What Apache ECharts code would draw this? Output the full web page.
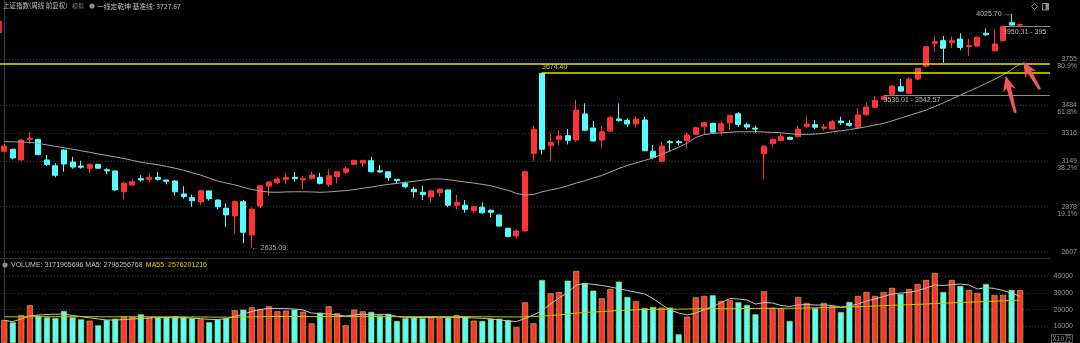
<!DOCTYPE html>
<html>
<head>
<meta charset="utf-8">
<script src="https://cdn.jsdelivr.net/npm/echarts@6.0.0/dist/echarts.min.js"></script>
<style>
html,body{margin:0;padding:0;background:#000;overflow:hidden;}
#chart{width:1080px;height:343px;}
</style>
</head>
<body>
<div id="chart"></div>
<script>
// ---- weekly candles: [open, close, low, high] ----
const ohlc = [
[3208,3239,3198,3251],[3220,3168,3160,3223],[3156,3275,3153,3281],[3279,3285,3251,3322],[3279,3188,3185,3281],
[3156,3130,3120,3186],[3122,3065,3053,3136],[3215,3132,3086,3220],[3144,3114,3104,3176],[3120,3113,3104,3152],
[3107,3130,3080,3136],[3130,3107,3104,3134],[3098,3091,3071,3110],[3091,2978,2973,3092],[2967,3017,2922,3027],
[3007,3027,3005,3041],[3045,3037,3025,3065],[3041,3053,3025,3077],[3053,3041,3033,3085],[3037,3029,3011,3038],
[3031,2967,2946,3037],[2954,2938,2926,3001],[2932,2914,2878,2950],[2906,2973,2888,2978],[2972,2926,2914,2973],
[2918,2878,2863,2922],[2869,2829,2756,2898],[2823,2908,2720,2914],[2908,2726,2660,2918],[2710,2863,2635.09,2875],
[2882,3003,2869,3005],[3001,3025,2942,3027],[3023,3043,3013,3057],[3041,3053,3013,3077],[3053,3045,3027,3086],
[3037,3045,2982,3061],[3047,3067,3041,3085],[3053,3017,3011,3080],[3011,3063,2995,3101],[3057,3086,3017,3087],
[3083,3104,3073,3120],[3130,3154,3128,3156],[3138,3154,3116,3156],[3152,3086,3083,3176],[3092,3085,3080,3126],
[3086,3051,3031,3087],[3041,3033,3013,3042],[3017,2997,2988,3027],[2982,2967,2932,2997],[2964,2950,2918,3003],
[2936,2972,2904,2976],[2961,2982,2938,2988],[2978,2887,2875,2979],[2887,2904,2863,2948],[2887,2863,2842,2918],
[2854,2878,2841,2882],[2875,2842,2835,2904],[2857,2845,2815,2863],[2829,2763,2762,2833],[2750,2700,2698,2751],
[2704,2734,2690,2744],[2734,3086,2730,3092],[3196,3339,3150,3360],[3672,3220,3190,3674.40],[3241,3261,3150,3315],
[3279,3299,3245,3334],[3301,3273,3249,3340],[3275,3453,3265,3513],[3430,3333,3328,3493],[3346,3269,3265,3388],
[3275,3324,3229,3360],[3328,3408,3324,3418],[3400,3390,3384,3493],[3392,3370,3352,3404],[3370,3400,3350,3416],
[3394,3211,3209,3413],[3208,3170,3164,3245],[3148,3239,3144,3265],[3265,3259,3205,3275],[3265,3259,3243,3275],
[3271,3305,3226,3318],[3309,3348,3305,3354],[3354,3378,3311,3384],[3374,3321,3315,3378],[3329,3372,3305,3390],
[3378,3422,3334,3424],[3431,3368,3354,3440],[3366,3352,3340,3378],[3346,3340,3318,3360],[3193,3238,3041,3245],
[3255,3279,3232,3285],[3273,3295,3269,3311],[3291,3279,3275,3295],[3295,3340,3291,3360],[3354,3370,3348,3418],
[3366,3351,3340,3394],[3345,3352,3329,3370],[3340,3384,3339,3394],[3388,3378,3364,3414],[3374,3362,3354,3394],
[3351,3424,3345,3464],[3425,3471,3422,3497],[3470,3511,3465,3536],[3517,3533,3515,3536],[3547,3596,3543,3602],
[3592,3566,3562,3638],[3553,3638,3549,3648],[3638,3702,3632,3703],[3715,3830,3707,3834],[3850,3860,3800,3895],
[3866,3821,3735,3894],[3854,3866,3821,3890],[3876,3826,3810,3910],[3830,3838,3775,3876],[3834,3886,3830,3890],
[3910,3901,3894,3939],[3806,3846,3800,3934],[3866,3950.31,3862,3950.31],[3973,3959,3957,4025.70],[3958,3962,3957,3965]
];
// week index (x category positions)
const weeks = ohlc.map((_, i) => i);

// moving average on price
const priceMA = [
3265,3264,3263,3261,3255,3246,3237,3229,3220,3211,
3202,3192,3183,3174,3165,3154,3143,3135,3128,3118,
3107,3095,3080,3066,3048,3031,3019,3008,2994,2980,
2972,2965,2964,2966,2967,2967,2966,2964,2966,2970,
2974,2980,2988,2995,3004,3011,3017,3023,3029,3036,
3043,3044,3039,3032,3025,3019,3011,3003,2989,2976,
2957,2948,2951,2967,2978,2988,3003,3019,3033,3049,
3064,3085,3106,3124,3139,3153,3169,3188,3210,3232,
3257,3290,3307,3314,3318,3321,3324,3324,3324,3323,
3320,3318,3313,3308,3309,3310,3315,3324,3330,3337,
3345,3354,3364,3374,3389,3405,3421,3437,3453,3474,
3496,3519,3542,3565,3588,3612,3636,3663,3694,3728];

// volume (x10万)
const volume = [
13800,12400,16800,22600,16400,15400,15000,19200,15400,14200,
13400,10600,13800,14600,16000,15800,17200,15400,15400,15600,
16000,15800,14800,14200,12400,14200,15000,19600,20000,21400,
20400,22000,19000,19400,20000,18800,11800,18200,22000,17800,
10600,20000,19000,18600,16600,17200,13200,14800,15400,14800,
15800,15000,15200,16800,16000,13400,13200,14600,14600,13800,
9600,24400,11800,37800,29800,30600,37400,43200,36000,31400,
26800,32400,36800,27600,25000,21000,21600,21200,21200,5200,
15800,27400,28200,28600,25200,25800,24400,22800,17200,31000,
21200,20800,13200,27600,24000,21000,24000,22200,18600,24600,
28200,30600,28200,30600,33000,29400,32400,35400,37800,42000,
30600,37800,34200,31800,30000,35400,28800,28800,31800,31720];

const volMA5 = [
13500,12900,14400,16200,16800,17100,17300,17400,16500,15900,
15100,14400,13800,13800,14100,14400,14700,15000,15400,15300,
15200,15200,15000,14600,14200,14100,14500,15900,17400,18900,
20100,20800,20700,20600,20400,19800,18000,17600,17500,16800,
16200,16900,17300,16800,17100,17300,15900,15300,15200,15300,
15400,15400,15400,15400,15300,15000,14800,14400,13900,13200,
12900,14700,16800,19500,23400,27000,30300,34800,35700,35200,
34500,33600,32600,31500,30500,29400,26700,23100,19800,18000,
16800,18000,20100,21900,24300,26700,26400,25800,23400,24300,
24000,22500,21900,22800,23100,22800,22800,22500,21600,22200,
23400,25200,26400,27900,29400,30000,30300,31500,33000,34800,
34500,35100,35400,34800,32400,33300,32700,31500,30000,27963];

const volMA55 = [
15700,15700,15700,15800,15800,15800,15800,15800,15800,15800,
15800,15700,15700,15700,15700,15700,15700,15700,15700,15700,
15700,15600,15600,15600,15600,15500,15500,15500,15600,15700,
15800,15900,15900,15900,15900,15900,15900,15800,15900,15900,
15800,15900,15900,15900,15800,15800,15800,15800,15800,15800,
15800,15800,15800,15800,15800,15800,15800,15700,15700,15700,
15600,15700,15900,16200,16500,16900,17400,17900,18300,18600,
18900,19200,19500,19700,19900,20100,20200,20300,20300,20300,
20400,20500,20500,20600,20600,20600,20600,20700,20700,20800,
20800,20800,20800,20900,21000,21100,21200,21300,21400,21600,
21800,22000,22200,22400,22600,22800,23000,23200,23400,23700,
23900,24100,24300,24500,24700,24900,25100,25300,25500,25762];

// axis tick labels
const priceTicks = [3755, 3484, 3316, 3149, 2878, 2607];
const fibLabels  = ['80.9%', '61.8%', '', '38.2%', '19.1%', ''];
const volTicks = [10000, 20000, 30000, 40000];

// reference levels / annotations
const baseLine = 3727.67;
const gapHigh = { week: 63, value: 3674.40 };
const gapA = { week: 103, value: 3542.57, text: '3536.01 - 3542.57' };
const gapB = { week: 117, value: 3950.31, text: '3950.31 - 395' };
const lowMark = { week: 29, value: 2635.09 };
const highMark = { week: 118, value: 4025.70 };
const legendVol = { vol: '3171965696', ma5: '2796256768', ma55: '2576201216' };

const UP = '#ff3333', DOWN = '#55ffff', YEL = '#e6e600';
const NUM = '"Liberation Sans", Arial, sans-serif';
const CJK = '"Noto Sans CJK SC", "Noto Sans", sans-serif';
const XMAX = 122.5;

const chart = echarts.init(document.getElementById('chart'), null, { width: 1080, height: 343 });

const option = {
  backgroundColor: '#000',
  animation: false,
  grid: [
    { left: 0, right: 30, top: 0, height: 258 },
    { left: 0, right: 30, top: 258, height: 85 }
  ],
  xAxis: [
    { type: 'value', gridIndex: 0, min: -0.5, max: XMAX,
      axisLine: { show: true, onZero: false, lineStyle: { color: '#2e2e2e' } },
      axisTick: { show: false }, axisLabel: { show: false }, splitLine: { show: false } },
    { type: 'value', gridIndex: 1, min: -0.5, max: XMAX, show: false,
      axisLine: { show: false }, splitLine: { show: false } }
  ],
  yAxis: [
    { type: 'value', gridIndex: 0, position: 'right', min: 2573, max: 4108, scale: true,
      axisLine: { show: true, lineStyle: { color: '#3a3a3a' } },
      axisTick: { show: false, customValues: priceTicks },
      splitLine: { show: true, lineStyle: { color: '#3a3a3a', type: [1, 2], width: 1 } },
      axisLabel: {
        customValues: priceTicks, align: 'right', margin: 27,
        color: '#9a9a9a', fontSize: 7, fontFamily: NUM,
        formatter: function (v) {
          const k = priceTicks.indexOf(v);
          const pct = k >= 0 ? fibLabels[k] : '';
          return pct ? '{e| }\n{a|' + v + '}\n{a|' + pct + '}' : '{a|' + v + '}';
        },
        rich: {
          e: { fontSize: 7, lineHeight: 7, align: 'right' },
          a: { fontSize: 7, lineHeight: 7, color: '#9a9a9a', fontFamily: NUM, align: 'right' }
        }
      }
    },
    { type: 'value', gridIndex: 1, position: 'right', min: 0, max: 51000,
      axisLine: { show: true, lineStyle: { color: '#3a3a3a' } },
      axisTick: { show: false, customValues: volTicks },
      splitLine: { show: true, lineStyle: { color: '#3a3a3a', type: [1, 2], width: 1 } },
      axisLabel: { customValues: volTicks, align: 'right', margin: 23,
        color: '#9a9a9a', fontSize: 7, fontFamily: NUM,
        formatter: v => String(v) }
    }
  ],
  series: [
    {
      name: 'K', type: 'candlestick', xAxisIndex: 0, yAxisIndex: 0,
      encode: { x: 0, y: [1, 2, 3, 4] },
      barWidth: 5.5,
      data: ohlc.map((d, i) => [weeks[i], d[0], d[1], d[2], d[3]]),
      itemStyle: { color: UP, color0: DOWN, borderColor: UP, borderColor0: DOWN, borderWidth: 1 },
      markLine: {
        silent: true, symbol: ['none', 'none'], animation: false,
        data: [
          { yAxis: baseLine, lineStyle: { color: YEL, width: 1.5, type: 'solid' }, label: { show: false } },
          [
            { coord: [gapHigh.week, gapHigh.value], lineStyle: { color: YEL, width: 1.5, type: 'solid' },
              label: { show: true, position: 'insideStartTop', distance: [0, 2], formatter: gapHigh.value.toFixed(2),
                       color: '#cfc873', fontSize: 7, fontFamily: NUM } },
            { coord: [XMAX, gapHigh.value] }
          ],
          [
            { coord: [gapA.week, gapA.value], lineStyle: { color: '#8a8a8a', width: 1, type: 'solid' },
              label: { show: true, position: 'insideStartBottom', distance: [0, 2], formatter: gapA.text,
                       color: '#b8b8b8', fontSize: 7, fontFamily: NUM } },
            { coord: [XMAX, gapA.value] }
          ],
          [
            { coord: [gapB.week, gapB.value], lineStyle: { color: '#8a8a8a', width: 1, type: 'solid' },
              label: { show: true, position: 'insideStartBottom', distance: [0, 2], formatter: gapB.text,
                       color: '#b8b8b8', fontSize: 7, fontFamily: NUM } },
            { coord: [XMAX, gapB.value] }
          ]
        ]
      },
      markPoint: {
        silent: true, symbol: 'circle', symbolSize: 0, animation: false,
        data: [
          { coord: [lowMark.week, lowMark.value],
            label: { show: true, position: 'right', distance: 0, formatter: '← ' + lowMark.value.toFixed(2),
                     color: '#a8a8a8', fontSize: 7, fontFamily: NUM } },
          { coord: [highMark.week, highMark.value],
            label: { show: true, position: 'left', distance: 1, formatter: highMark.value.toFixed(2) + ' →',
                     color: '#b8b8b8', fontSize: 7, fontFamily: NUM } }
        ]
      }
    },
    {
      name: 'MA', type: 'line', xAxisIndex: 0, yAxisIndex: 0,
      data: priceMA.map((v, i) => [weeks[i], v]),
      showSymbol: false, smooth: false,
      lineStyle: { color: '#a6a6a6', width: 1 }, z: 3
    },
    {
      name: 'VOL', type: 'bar', xAxisIndex: 1, yAxisIndex: 1, barWidth: 6,
      data: volume.map((v, i) => [weeks[i], v]),
      itemStyle: {
        color: p => (ohlc[p.dataIndex][1] >= ohlc[p.dataIndex][0] ? UP : DOWN),
        borderColor: p => (ohlc[p.dataIndex][1] >= ohlc[p.dataIndex][0] ? '#8a1a1a' : '#2a8f8f'),
        borderWidth: 0.6
      }
    },
    {
      name: 'VMA5', type: 'line', xAxisIndex: 1, yAxisIndex: 1,
      data: volMA5.map((v, i) => [weeks[i], v]),
      showSymbol: false, lineStyle: { color: '#c4c4c4', width: 1 }, z: 4
    },
    {
      name: 'VMA55', type: 'line', xAxisIndex: 1, yAxisIndex: 1,
      data: volMA55.map((v, i) => [weeks[i], v]),
      showSymbol: false, lineStyle: { color: '#c8c800', width: 1 }, z: 4
    }
  ]
};
chart.setOption(option);

// ---- annotation arrows (anchored in data space) ----
const arrowDefs = [
  { tip: [117.3, 3656], tail: [118.45, 3436] },
  { tip: [119.37, 3741], tail: [121.3, 3577] }
];
function arrowShape(tip, tail) {
  const dx = tip[0] - tail[0], dy = tip[1] - tail[1];
  const len = Math.hypot(dx, dy);
  const ux = dx / len, uy = dy / len, nx = -uy, ny = ux;
  const H = 15, W = 6.5, w = 2.2, notch = 3;
  const bx = tip[0] - ux * H, by = tip[1] - uy * H;
  const nxb = tip[0] - ux * (H - notch), nyb = tip[1] - uy * (H - notch);
  return [
    tip,
    [bx + nx * W, by + ny * W],
    [nxb + nx * w, nyb + ny * w],
    [tail[0] + nx * w * 0.6, tail[1] + ny * w * 0.6],
    [tail[0] - nx * w * 0.6, tail[1] - ny * w * 0.6],
    [nxb - nx * w, nyb - ny * w],
    [bx - nx * W, by - ny * W]
  ];
}
const arrowEls = arrowDefs.map(a => {
  const t = chart.convertToPixel({ gridIndex: 0 }, a.tip);
  const s = chart.convertToPixel({ gridIndex: 0 }, a.tail);
  return { type: 'polygon', shape: { points: arrowShape(t, s) },
           style: { fill: '#f2585a', stroke: null }, z: 100 };
});

chart.setOption({
  graphic: [
    // top legend
    { type: 'text', x: 3, y: 6, z: 100,
      style: { text: '上证指数(周线 前复权)', verticalAlign: 'middle', fill: '#c4c4c4', fontSize: 6.5, fontFamily: CJK } },
    { type: 'text', x: 72, y: 6, z: 100,
      style: { text: '模拟', verticalAlign: 'middle', fill: '#7c7c7c', fontSize: 6, fontFamily: CJK } },
    { type: 'circle', shape: { cx: 92, cy: 6, r: 2.6 }, style: { fill: '#8c8c8c' }, z: 100 },
    { type: 'text', x: 97, y: 6, z: 100,
      style: { text: '一线定乾坤 基准线: ' + baseLine.toFixed(2), verticalAlign: 'middle',
        fill: '#c4c4c4', fontSize: 6.8, fontFamily: CJK } },
    // volume legend
    { type: 'circle', shape: { cx: 5, cy: 265, r: 2.6 }, style: { fill: '#8c8c8c' }, z: 100 },
    { type: 'text', x: 11, y: 265, z: 100,
      style: { text: '{a|VOLUME: ' + legendVol.vol + ' MA5: ' + legendVol.ma5 + '} {y|MA55: ' + legendVol.ma55 + '}',
        verticalAlign: 'middle',
        rich: { a: { fill: '#c4c4c4', fontSize: 7, fontFamily: NUM }, y: { fill: '#d6d600', fontSize: 7, fontFamily: NUM } } } },
    // unit box
    { type: 'rect', shape: { x: 1051.5, y: 334.5, width: 21, height: 8 }, style: { fill: 'none', stroke: '#555', lineWidth: 1 }, z: 100 },
    { type: 'text', x: 1062, y: 338.8, z: 101,
      style: { text: 'X10万', align: 'center', verticalAlign: 'middle', fill: '#8c8c8c', fontSize: 7, fontFamily: CJK } },
    // top-right icons
    { type: 'polygon', shape: { points: [[1034.5, 3.5], [1037.5, 6.5], [1034.5, 9.5], [1031.5, 6.5]] },
      style: { fill: 'none', stroke: '#8c8c8c', lineWidth: 1 }, z: 100 },
    { type: 'rect', shape: { x: 1042.5, y: 3.5, width: 6, height: 6.5 }, style: { fill: 'none', stroke: '#8c8c8c', lineWidth: 1 }, z: 100 },
    { type: 'rect', shape: { x: 1045.5, y: 4, width: 2.5, height: 5.5 }, style: { fill: '#8c8c8c' }, z: 100 },
    // left edge marker
    { type: 'rect', shape: { x: 0, y: 21, width: 2, height: 12 }, style: { fill: '#e02828' }, z: 100 }
  ].concat(arrowEls)
});
</script>
</body>
</html>
